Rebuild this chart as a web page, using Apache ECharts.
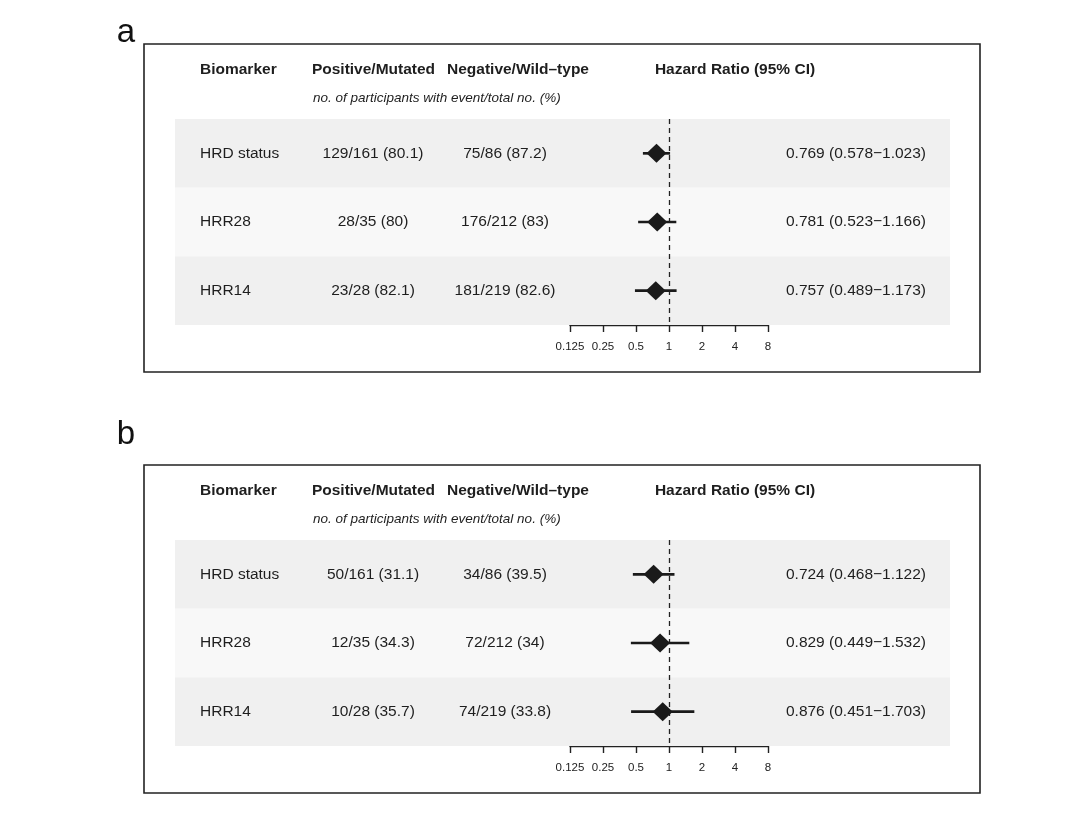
<!DOCTYPE html>
<html>
<head>
<meta charset="utf-8">
<script src="https://cdn.jsdelivr.net/npm/echarts@6/dist/echarts.min.js"></script>
<style>html,body{margin:0;padding:0;background:#fff}#c{width:1080px;height:823px}</style>
</head>
<body>
<div id="c"></div>
<script>
const biomarkers = ['HRD status', 'HRR28', 'HRR14'];
const tickLabels = ['0.125', '0.25', '0.5', '1', '2', '4', '8'];
const headers = ['Biomarker', 'Positive/Mutated', 'Negative/Wild\u2013type', 'Hazard Ratio (95% CI)'];
const subtitle = 'no. of participants with event/total no. (%)';
const panelLabels = ['a', 'b'];

// Panel a
const posA = ['129/161 (80.1)', '28/35 (80)', '23/28 (82.1)'];
const negA = ['75/86 (87.2)', '176/212 (83)', '181/219 (82.6)'];
const hrA = [0.769, 0.781, 0.757];
const loA = [0.578, 0.523, 0.489];
const hiA = [1.023, 1.166, 1.173];

// Panel b
const posB = ['50/161 (31.1)', '12/35 (34.3)', '10/28 (35.7)'];
const negB = ['34/86 (39.5)', '72/212 (34)', '74/219 (33.8)'];
const hrB = [0.724, 0.829, 0.876];
const loB = [0.468, 0.449, 0.451];
const hiB = [1.122, 1.532, 1.703];

const FONT = "'Liberation Sans', Arial, Helvetica, sans-serif";
const TXT = '#1e1e1e';
const panels = [
  { pos: posA, neg: negA, hr: hrA, lo: loA, hi: hiA, off: 0, labelY: 33 },
  { pos: posB, neg: negB, hr: hrB, lo: loB, hi: hiB, off: 421, labelY: 435 }
];

const chart = echarts.init(document.getElementById('c'), null, { renderer: 'canvas' });

const grids = [], xAxes = [], yAxes = [], series = [], graphic = [];

panels.forEach((p, k) => {
  const off = p.off;
  grids.push({ left: 570, width: 198, top: 119 + off, height: 206 });
  xAxes.push({
    gridIndex: k, type: 'log', logBase: 2, min: 0.125, max: 8, interval: 1,
    axisLine: { show: true, lineStyle: { color: '#222', width: 1.4 } },
    axisTick: { show: true, length: 7, lineStyle: { color: '#222', width: 1.4 } },
    axisLabel: {
      margin: 16, color: '#222', fontSize: 11.5, fontFamily: FONT,
      formatter: v => tickLabels[Math.round(Math.log2(v)) + 3]
    },
    splitLine: { show: false }, minorTick: { show: false }, minorSplitLine: { show: false }
  });
  yAxes.push({ gridIndex: k, type: 'value', min: 0.5, max: 3.5, inverse: true, show: false });

  const rows = biomarkers.map((b, i) => [p.hr[i], i + 1, p.lo[i], p.hi[i], i]);

  // Row bands
  series.push({
    type: 'custom', xAxisIndex: k, yAxisIndex: k, clip: false, z: 1, silent: true,
    data: rows,
    renderItem: (params, api) => {
      const r = api.value(1);
      const y0 = api.coord([1, r - 0.5])[1];
      const y1 = api.coord([1, r + 0.5])[1];
      return {
        type: 'rect',
        shape: { x: 175, y: y0, width: 775, height: y1 - y0 },
        style: { fill: r % 2 === 1 ? '#f0f0f0' : '#f8f8f8' }
      };
    }
  });

  // Table text
  series.push({
    type: 'custom', xAxisIndex: k, yAxisIndex: k, clip: false, z: 3, silent: true,
    data: rows,
    renderItem: (params, api) => {
      const i = api.value(4);
      const y = api.coord([1, api.value(1)])[1];
      const base = { fill: TXT, fontSize: 15.5, fontFamily: FONT, verticalAlign: 'middle' };
      const hrText = p.hr[i].toFixed(3) + ' (' + p.lo[i].toFixed(3) + '\u2212' + p.hi[i].toFixed(3) + ')';
      return {
        type: 'group',
        children: [
          { type: 'text', style: Object.assign({}, base, { text: biomarkers[i], x: 200, y: y, align: 'left' }) },
          { type: 'text', style: Object.assign({}, base, { text: p.pos[i], x: 373, y: y, align: 'center' }) },
          { type: 'text', style: Object.assign({}, base, { text: p.neg[i], x: 505, y: y, align: 'center' }) },
          { type: 'text', style: Object.assign({}, base, { text: hrText, x: 926, y: y, align: 'right' }) }
        ]
      };
    }
  });

  // CI lines + diamonds
  series.push({
    type: 'custom', xAxisIndex: k, yAxisIndex: k, clip: false, z: 5, silent: true,
    data: rows,
    renderItem: (params, api) => {
      const r = api.value(1);
      const c = api.coord([api.value(0), r]);
      const a = api.coord([api.value(2), r]);
      const b = api.coord([api.value(3), r]);
      const w = 10, h = 9.5;
      return {
        type: 'group',
        children: [
          { type: 'line', shape: { x1: a[0], y1: a[1], x2: b[0], y2: b[1] }, style: { stroke: '#1a1a1a', lineWidth: 2.7 } },
          { type: 'polygon', shape: { points: [[c[0] - w, c[1]], [c[0], c[1] - h], [c[0] + w, c[1]], [c[0], c[1] + h]] }, style: { fill: '#1a1a1a' } }
        ]
      };
    },
    markLine: {
      silent: true, symbol: 'none', label: { show: false },
      lineStyle: { color: '#222', type: [5, 4], width: 1.3 },
      data: [{ xAxis: 1 }]
    }
  });

  // Frame and headers
  graphic.push({
    type: 'rect', shape: { x: 144, y: 44 + off, width: 836, height: 328 },
    style: { fill: 'none', stroke: '#222', lineWidth: 1.6 }, z: 10
  });
  graphic.push({
    type: 'text', style: { text: panelLabels[k], x: 126, y: p.labelY, align: 'center', verticalAlign: 'middle', fontSize: 33, fontFamily: FONT, fill: '#111' }
  });
  const hx = [200, 373.5, 518, 735];
  const ha = ['left', 'center', 'center', 'center'];
  headers.forEach((h, j) => {
    graphic.push({
      type: 'text', style: { text: h, x: hx[j], y: 70 + off, align: ha[j], verticalAlign: 'middle', fontSize: 15.5, fontWeight: 'bold', fontFamily: FONT, fill: TXT }
    });
  });
  graphic.push({
    type: 'text', style: { text: subtitle, x: 313, y: 98.5 + off, align: 'left', verticalAlign: 'middle', fontSize: 13.5, fontStyle: 'italic', fontFamily: FONT, fill: TXT }
  });
});

chart.setOption({
  animation: false,
  backgroundColor: '#fff',
  grid: grids,
  xAxis: xAxes,
  yAxis: yAxes,
  series: series,
  graphic: graphic
});
</script>
</body>
</html>
